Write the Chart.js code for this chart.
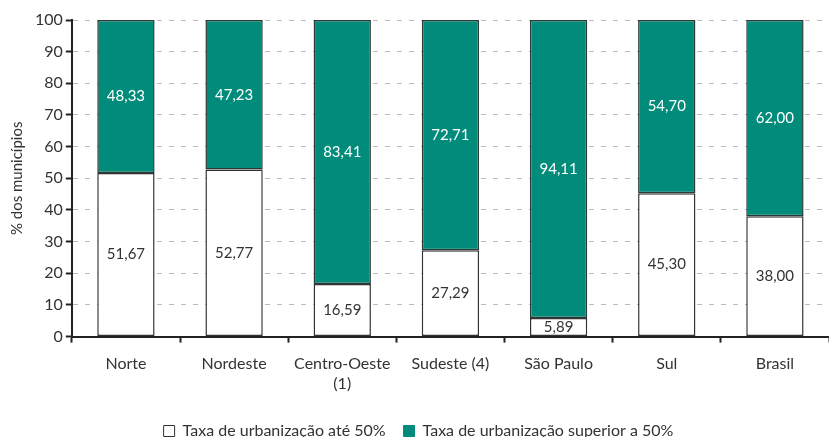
<!DOCTYPE html>
<html>
<head>
<meta charset="utf-8">
<script src="https://cdn.jsdelivr.net/npm/chart.js@4.4.0/dist/chart.umd.min.js"></script>
<style>
  body { margin: 0; background: #fff; }
  #wrap { width: 829px; height: 437px; }
</style>
</head>
<body>
<div id="wrap"><canvas id="urbChart"></canvas></div>
<script>
// Municípios por taxa de urbanização

const regioes = ['Norte', 'Nordeste', ['Centro-Oeste', '(1)'], 'Sudeste (4)', 'São Paulo', 'Sul', 'Brasil'];
const ate50 = [51.67, 52.77, 16.59, 27.29, 5.89, 45.30, 38.00];
const acima50 = [48.33, 47.23, 83.41, 72.71, 94.11, 54.70, 62.00];
const yTicks = [0, 10, 20, 30, 40, 50, 60, 70, 80, 90, 100];

const TEAL = '#008b7a';
const FONT = 'Lato, "Open Sans", sans-serif';

// writes the value in the middle of each bar segment
const valueLabels = {
  id: 'valueLabels',
  afterDatasetsDraw(chart) {
    const ctx = chart.ctx;
    ctx.save();
    ctx.font = '15px ' + FONT;
    ctx.textAlign = 'center';
    ctx.textBaseline = 'middle';
    chart.data.datasets.forEach((ds, di) => {
      const meta = chart.getDatasetMeta(di);
      meta.data.forEach((bar, i) => {
        const { x, y, base } = bar.getProps(['x', 'y', 'base'], true);
        ctx.fillStyle = di === 0 ? '#333' : '#fff';
        ctx.fillText(ds.data[i].toFixed(2).replace('.', ','), x, (y + base) / 2);
      });
    });
    ctx.restore();
  },
};

new Chart(document.getElementById('urbChart'), {
  type: 'bar',
  data: {
    labels: regioes,
    datasets: [
      {
        label: 'Taxa de urbanização até 50%',
        data: ate50,
        backgroundColor: '#fff',
        borderColor: '#333',
        borderWidth: 1.5,
        borderSkipped: false,
      },
      {
        label: 'Taxa de urbanização superior a 50%',
        data: acima50,
        backgroundColor: TEAL,
        borderColor: '#2a3a36',
        borderWidth: 1.5,
        borderSkipped: false,
      },
    ],
  },
  options: {
    responsive: true,
    maintainAspectRatio: false,
    animation: false,
    datasets: { bar: { barPercentage: 0.53, categoryPercentage: 1 } },
    layout: { padding: { top: 20, left: 8, right: 0, bottom: -12 } },
    plugins: {
      tooltip: { enabled: false },
      legend: {
        position: 'bottom',
        labels: {
          font: { family: FONT, size: 16 },
          color: '#333',
          boxWidth: 11,
          boxHeight: 11,
          padding: 18,
          generateLabels(chart) {
            return chart.data.datasets.map((ds, i) => ({
              text: ds.label,
              fillStyle: ds.backgroundColor,
              strokeStyle: i === 0 ? '#333' : ds.backgroundColor,
              lineWidth: 1,
              fontColor: '#333',
              datasetIndex: i,
            }));
          },
        },
      },
    },
    scales: {
      x: {
        stacked: true,
        border: { color: '#222', width: 2 },
        grid: {
          offset: true,
          drawOnChartArea: false,
          drawTicks: true,
          tickLength: 6,
          tickColor: '#222',
          tickWidth: 2,
        },
        ticks: { font: { family: FONT, size: 16 }, color: '#333', padding: 12, maxRotation: 0 },
      },
      y: {
        stacked: true,
        min: 0,
        max: 100,
        afterBuildTicks(axis) {
          axis.ticks = yTicks.map((v) => ({ value: v }));
        },
        border: { color: '#222', width: 2, dash: [5, 7] },
        grid: {
          color: '#bbb',
          lineWidth: 1,
          tickLength: 6,
          tickColor: '#222',
          tickWidth: 2,
          tickBorderDash: [],
        },
        ticks: { font: { family: FONT, size: 16 }, color: '#333', padding: 3 },
        title: {
          display: true,
          text: '% dos municípios',
          font: { family: FONT, size: 15 },
          color: '#333',
          padding: { top: 0, bottom: 6 },
        },
      },
    },
  },
  plugins: [valueLabels],
});
</script>
</body>
</html>
